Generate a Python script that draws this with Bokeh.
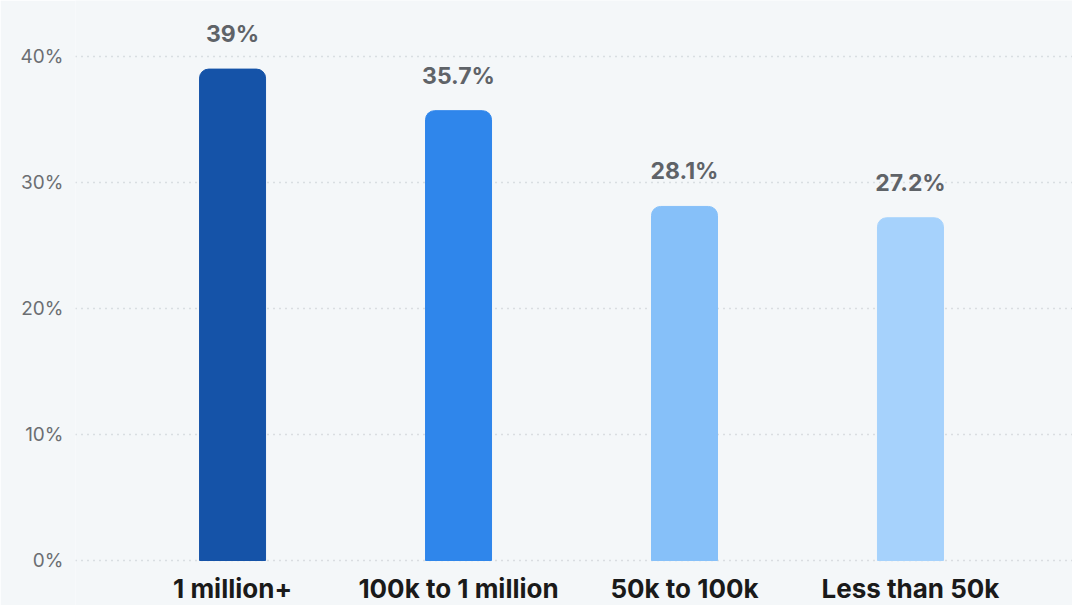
from bokeh.plotting import figure
from bokeh.models import ColumnDataSource, Range1d, FixedTicker
from bokeh.embed import file_html
from bokeh.resources import INLINE
from bokeh.core.properties import value

categories = ["1 million+", "100k to 1 million", "50k to 100k", "Less than 50k"]
values = [39.0, 35.7, 28.1, 27.2]
labels = ["39%", "35.7%", "28.1%", "27.2%"]
colors = ["#1553a8", "#2f86eb", "#86c0f9", "#a6d2fc"]
y_ticks = [0, 10, 20, 30, 40]

xs = list(range(len(categories)))
src = ColumnDataSource(dict(x=xs, top=values, label=labels, color=colors,
                            cat=categories, base=[0] * len(categories)))

BG = "#f4f7f9"
p = figure(width=1072, height=605, output_backend="svg", toolbar_location=None,
           x_range=Range1d(-0.695, 3.717), y_range=Range1d(-3.571, 44.444),
           min_border_left=75, min_border_right=0, min_border_top=0, min_border_bottom=0,
           background_fill_color=BG, border_fill_color=BG)
p.outline_line_color = None

p.vbar(x="x", top="top", bottom=0, width=0.292, color="color", source=src,
       border_radius=(9, 9, 0, 0))
p.text(x="x", y="top", text="label", source=src, text_align="center",
       text_baseline="bottom", y_offset=-21, text_font=value("Inter"),
       text_font_size="23px", text_font_style="bold", text_color="#5f6368")
# category labels under the bars
p.text(x="x", y="base", text="cat", source=src, text_align="center",
       text_baseline="middle", y_offset=28, text_font=value("Inter"),
       text_font_size="26px", text_font_style="bold", text_color="#1a1a1a")

p.xaxis.visible = False

p.yaxis.ticker = FixedTicker(ticks=y_ticks)
p.yaxis.major_label_overrides = {t: f"{t}%" for t in y_ticks}
p.yaxis.major_label_text_font = "Inter"
p.yaxis.major_label_text_font_size = "19px"
p.yaxis.major_label_text_color = "#6b6e72"
p.yaxis.major_label_standoff = 6
p.yaxis.axis_line_color = None
p.yaxis.major_tick_line_color = None
p.yaxis.minor_tick_line_color = None

p.xgrid.grid_line_color = None
p.ygrid.grid_line_color = "#bfc4ca"
p.ygrid.grid_line_dash = "1 5"
p.ygrid.grid_line_width = 1.5

open("out.html", "w").write(file_html(p, INLINE))
